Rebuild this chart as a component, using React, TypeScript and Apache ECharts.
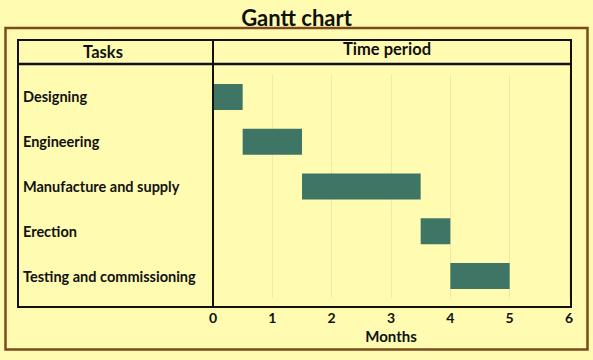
import React, { useEffect, useRef } from "react";
import * as echarts from "echarts";

const tasks = ["Designing", "Engineering", "Manufacture and supply", "Erection", "Testing and commissioning"];
const starts = [0, 0.5, 1.5, 3.5, 4];
const durations = [0.5, 1, 2, 0.5, 1];
const xTicks = [0, 1, 2, 3, 4, 5, 6];

const BG = "#FFFCB2";
const BAR = "#3F7565";
const INK = "#111111";
const FONT = "Lato, 'Open Sans', sans-serif";

export default function App() {
  const ref = useRef<HTMLDivElement>(null);
  useEffect(() => {
    if (!ref.current) return;
    const chart = echarts.init(ref.current, null, { renderer: "svg" });
    chart.setOption({
      animation: false,
      backgroundColor: BG,
      textStyle: { fontFamily: FONT },
      title: {
        text: "Gantt chart",
        left: "center",
        top: 1,
        textStyle: { fontSize: 22, fontWeight: "bold", color: INK, fontFamily: FONT },
      },
      grid: { left: 213, right: 24, top: 74.6, bottom: 360 - 298.4, containLabel: false },
      xAxis: {
        type: "value",
        min: xTicks[0],
        max: xTicks[xTicks.length - 1],
        interval: 1,
        offset: 8.6,
        axisLine: { show: true, lineStyle: { color: INK, width: 2 } },
        axisTick: { show: false },
        axisLabel: { color: INK, fontSize: 14, fontWeight: "bold", margin: 3, fontFamily: FONT },
        splitLine: { show: true, lineStyle: { color: "#F1E9A6", width: 1 } },
        name: "Months",
        nameLocation: "middle",
        nameGap: 21,
        nameTextStyle: { color: INK, fontSize: 15, fontWeight: "bold", fontFamily: FONT },
      },
      yAxis: {
        type: "category",
        data: tasks,
        inverse: true,
        axisLine: { show: false },
        axisTick: { show: false },
        axisLabel: {
          color: INK,
          fontSize: 14.5,
          fontWeight: "bold",
          align: "left",
          margin: 190,
          padding: [0, 0, 8, 0],
          fontFamily: FONT,
        },
      },
      series: [
        {
          type: "bar",
          stack: "g",
          data: starts,
          barWidth: 26,
          itemStyle: { color: "transparent" },
          silent: true,
        },
        {
          type: "bar",
          stack: "g",
          data: durations,
          barWidth: 26,
          itemStyle: { color: BAR },
        },
      ],
      graphic: [
        {
          type: "rect",
          shape: { x: 5.5, y: 28, width: 582, height: 321.5 },
          style: { fill: "none", stroke: "#7A4A1C", lineWidth: 2.5 },
          z: 100,
        },
        {
          type: "rect",
          shape: { x: 18, y: 40, width: 553, height: 267 },
          style: { fill: "none", stroke: INK, lineWidth: 2 },
          z: 100,
        },
        {
          type: "line",
          shape: { x1: 18, y1: 64, x2: 571, y2: 64 },
          style: { stroke: INK, lineWidth: 2.5 },
          z: 100,
        },
        {
          type: "line",
          shape: { x1: 213, y1: 40, x2: 213, y2: 307 },
          style: { stroke: INK, lineWidth: 2 },
          z: 100,
        },
        {
          type: "text",
          x: 103,
          y: 52,
          style: {
            text: "Tasks",
            fill: INK,
            font: "bold 16.5px " + FONT,
            textAlign: "center",
            textVerticalAlign: "middle",
          },
          z: 100,
        },
        {
          type: "text",
          x: 387,
          y: 49,
          style: {
            text: "Time period",
            fill: INK,
            font: "bold 16.5px " + FONT,
            textAlign: "center",
            textVerticalAlign: "middle",
          },
          z: 100,
        },
      ],
    });
    return () => chart.dispose();
  }, []);
  return <div ref={ref} style={{ width: 593, height: 360, position: "absolute", left: 0, top: 0 }} />;
}
